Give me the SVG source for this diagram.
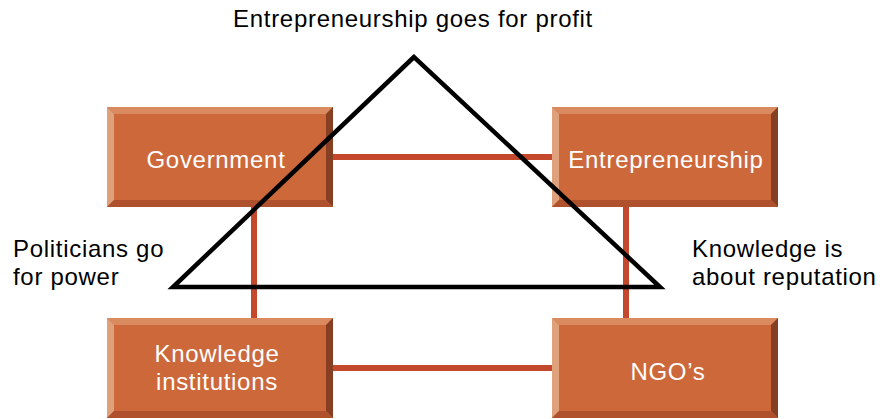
<svg xmlns="http://www.w3.org/2000/svg" width="886" height="419" viewBox="0 0 886 419">
<style>
text{font-family:"Liberation Sans",Arial,sans-serif;font-size:24px;letter-spacing:0.7px}
.lbl{fill:#000}
.box text{fill:#fff;text-anchor:middle}
.face{fill:#cd683a}
.bt{fill:#da8a5f}
.bl{fill:#dfa17c}
.br{fill:#873f23}
.bb{fill:#ae512c}
.con{stroke:#c4482b;stroke-width:6;fill:none}
</style>
<defs>
<g id="bev">
<rect x="0" y="0" width="226" height="100" class="face"/>
<polygon points="0,0 226,0 219,7 7,7" class="bt"/>
<polygon points="0,0 7,7 7,93 0,100" class="bl"/>
<polygon points="226,0 226,100 219,93 219,7" class="br"/>
<polygon points="0,100 7,93 219,93 226,100" class="bb"/>
</g>
</defs>
<g id="connectors">
<line class="con" x1="333" y1="157" x2="552" y2="157"/>
<line class="con" x1="333" y1="368" x2="552" y2="368"/>
<line class="con" x1="254" y1="207" x2="254" y2="318"/>
<line class="con" x1="626" y1="207" x2="626" y2="318"/>
</g>
<g id="government" class="box"><use href="#bev" x="107" y="107"/><text x="216" y="168">Government</text></g>
<g id="entrepreneurship" class="box"><use href="#bev" x="552" y="107"/><text x="666" y="168">Entrepreneurship</text></g>
<g id="knowledge" class="box"><use href="#bev" x="107" y="318"/><text x="217" y="362">Knowledge<tspan x="217" y="390">institutions</tspan></text></g>
<g id="ngos" class="box"><use href="#bev" x="552" y="318"/><text x="668" y="380">NGO’s</text></g>
<g id="triangle"><polygon points="414,57 173,287 660,287" fill="none" stroke="#000" stroke-width="4.5"/></g>
<g id="labels" class="lbl">
<text x="413" y="27" text-anchor="middle">Entrepreneurship goes for profit</text>
<text x="13" y="257">Politicians go<tspan x="13" y="285">for power</tspan></text>
<text x="692" y="257">Knowledge is<tspan x="692" y="285">about reputation</tspan></text>
</g>
</svg>
